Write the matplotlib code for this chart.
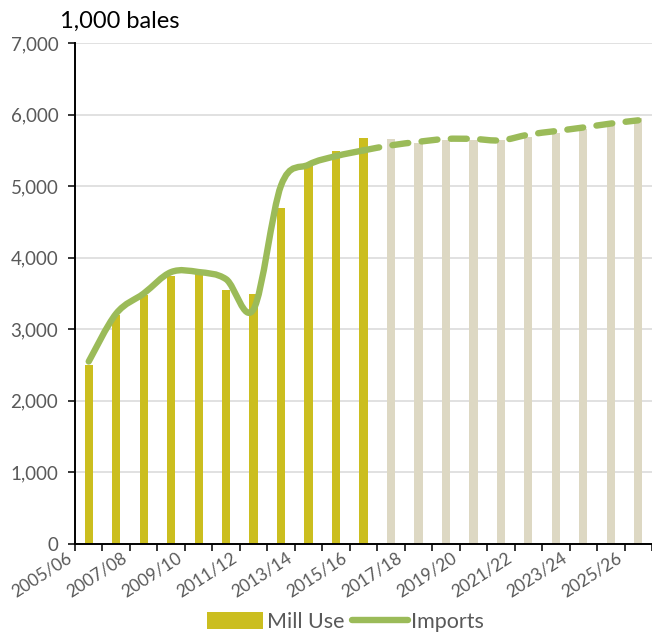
import matplotlib
matplotlib.use("Agg")
import matplotlib.pyplot as plt
import matplotlib.ticker as ticker
import matplotlib.transforms as mtransforms
from matplotlib.path import Path
from matplotlib.patches import PathPatch, Patch
from matplotlib.lines import Line2D
import numpy as np

plt.rcParams['font.family'] = ['Lato', 'DejaVu Sans']

years = ['2005/06', '2006/07', '2007/08', '2008/09', '2009/10', '2010/11', '2011/12',
         '2012/13', '2013/14', '2014/15', '2015/16', '2016/17', '2017/18', '2018/19',
         '2019/20', '2020/21', '2021/22', '2022/23', '2023/24', '2024/25', '2025/26']
mill_use = [2500, 3200, 3475, 3750, 3780, 3550, 3500, 4700, 5275, 5495, 5670,
            5655, 5600, 5650, 5650, 5650, 5690, 5740, 5800, 5850, 5950]
imports = [2550, 3220, 3500, 3800, 3800, 3700, 3280, 5010, 5300, 5420, 5500,
           5570, 5620, 5660, 5660, 5640, 5720, 5770, 5820, 5875, 5920]
n_hist = 11  # 2005/06 - 2015/16 actual, rest projected

gold = '#CBBE1F'
beige = '#DDD8C3'
green = '#9BBB59'
grey = '#595959'


def smooth_path(xs, ys, start, stop):
    # catmull-rom style smoothing, like excel's "smoothed line"
    n = len(xs)
    verts = [(xs[start], ys[start])]
    codes = [Path.MOVETO]
    for i in range(start, stop):
        a = max(i - 1, 0)
        d = min(i + 2, n - 1)
        c1 = (xs[i] + (xs[i + 1] - xs[a]) / 6, ys[i] + (ys[i + 1] - ys[a]) / 6)
        c2 = (xs[i + 1] - (xs[d] - xs[i]) / 6, ys[i + 1] - (ys[d] - ys[i]) / 6)
        verts += [c1, c2, (xs[i + 1], ys[i + 1])]
        codes += [Path.CURVE4] * 3
    return Path(verts, codes)


fig = plt.figure(figsize=(6.52, 6.33), dpi=100)
ax = fig.add_axes([0.115, 0.1406, 0.885, 0.7914])

x = np.arange(len(years))
colors = [gold if i < n_hist else beige for i in range(len(years))]
ax.bar(x, mill_use, width=0.3, color=colors, zorder=2)

lw = 4.6
solid = PathPatch(smooth_path(x, imports, 0, n_hist - 1), fill=False,
                  edgecolor=green, lw=lw, capstyle='round', joinstyle='round', zorder=3)
dashed = PathPatch(smooth_path(x, imports, n_hist - 1, len(years) - 1), fill=False,
                   edgecolor=green, lw=lw, capstyle='round', joinstyle='round',
                   linestyle=(0, (2.5, 2.1)), zorder=3)
ax.add_patch(solid)
ax.add_patch(dashed)

ax.set_xlim(-0.5, len(years) - 0.5)
ax.set_ylim(0, 7000)
ax.yaxis.set_major_locator(ticker.MultipleLocator(1000))
ax.yaxis.set_major_formatter(ticker.StrMethodFormatter('{x:,.0f}'))
ax.grid(axis='y', color='#D9D9D9', lw=1.1, zorder=0)

ax.set_xticks(x[::2])
ax.set_xticklabels(years[::2], rotation=33, ha='right', color=grey, fontsize=12.5)
ax.set_xticks(np.arange(-0.5, len(years)), minor=True)
ax.tick_params(axis='x', which='major', length=0, pad=4)
ax.tick_params(axis='x', which='minor', length=5, width=1.1, direction='out')
ax.tick_params(axis='y', length=5, width=1.1, labelsize=13.5, labelcolor=grey, pad=7)
offset = mtransforms.ScaledTranslation(-0.14, 0, fig.dpi_scale_trans)
for lab in ax.get_xticklabels():
    lab.set_transform(lab.get_transform() + offset)

for s in ['top', 'right']:
    ax.spines[s].set_visible(False)
for s in ['left', 'bottom']:
    ax.spines[s].set_linewidth(1.4)
    ax.spines[s].set_zorder(4)

fig.text(60 / 652, 1 - 21 / 633, '1,000 bales', fontsize=17, va='center', ha='left')

handles = [Patch(facecolor=gold, label='Mill Use'),
           Line2D([0], [0], color=green, lw=lw, solid_capstyle='round', label='Imports')]
fig.legend(handles=handles, loc='center', bbox_to_anchor=(0.53, 1 - 622 / 633), ncol=2,
           frameon=False, fontsize=15.5, handlelength=2.6, handleheight=0.8,
           handletextpad=0.15, columnspacing=0.35, labelcolor=grey)

fig.savefig('out.png', dpi=100)
